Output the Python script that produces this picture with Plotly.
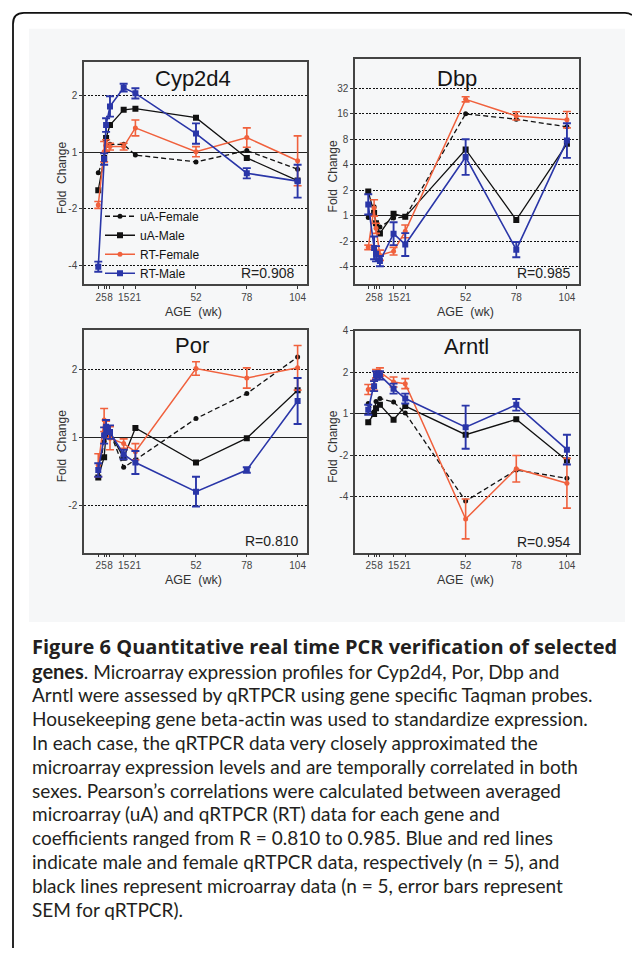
import plotly.graph_objects as go

W, H = 632, 955

# ---------------- data (log2 fold change; negative = fold decrease) ----------------
ages = [2, 5, 6, 8, 15, 21, 52, 78, 104]
age_tick_text = ['2', '5', '', '8', '15', '21', '52', '78', '104']

series_names = ['uA-Female', 'uA-Male', 'RT-Female', 'RT-Male']

cyp_uaf = [-0.36, -0.10, 0.12, 0.14, 0.14, -0.05, -0.17, 0.03, -0.30]
cyp_uam = [-0.67, -0.10, 0.25, 0.48, 0.75, 0.77, 0.61, -0.10, -0.50]
cyp_rtf = [-0.93, 0.01, 0.12, 0.10, 0.10, 0.43, 0.01, 0.26, -0.15]
cyp_rtf_err = [0.06, 0.18, 0.10, 0.06, 0.06, 0.14, 0.09, 0.17, 0.44]
cyp_rtm = [-2.02, -0.12, 0.48, 0.81, 1.14, 1.04, 0.33, -0.37, -0.51]
cyp_rtm_err = [0.09, 0.10, 0.12, 0.18, 0.07, 0.09, 0.18, 0.09, 0.29]

dbp_uaf = [-0.08, 0.35, -0.35, -0.45, -0.10, -0.05, 4.00, 3.79, 3.49]
dbp_uam = [0.95, 0.10, -0.30, -0.70, 0.07, -0.05, 2.60, -0.17, 2.82]
dbp_rtf = [-1.25, 0.30, -0.50, -1.56, -1.40, -0.62, 4.57, 3.92, 3.77]
dbp_rtf_err = [0.09, 0.32, 0.20, 0.20, 0.15, 0.25, 0.10, 0.16, 0.32]
dbp_rtm = [0.44, -1.27, -1.50, -1.79, -0.71, -1.14, 2.30, -1.34, 2.95]
dbp_rtm_err = [0.40, 0.45, 0.30, 0.20, 0.45, 0.45, 0.70, 0.30, 0.68]

por_uaf = [-0.58, -0.06, 0.13, 0.08, -0.44, -0.33, 0.28, 0.65, 1.19]
por_uam = [-0.59, -0.29, 0.05, 0.07, -0.30, 0.14, -0.37, -0.01, 0.70]
por_rtf = [-0.41, 0.26, 0.12, -0.01, -0.09, -0.21, 1.02, 0.88, 1.03]
por_rtf_err = [0.17, 0.17, 0.12, 0.17, 0.07, 0.12, 0.10, 0.15, 0.33]
por_rtm = [-0.48, 0.03, 0.16, 0.08, -0.25, -0.37, -0.80, -0.48, 0.54]
por_rtm_err = [0.10, 0.12, 0.10, 0.10, 0.07, 0.17, 0.22, 0.04, 0.34]

arn_uaf = [0.25, 0.05, 0.30, 0.37, 0.29, 0.02, -2.10, -1.35, -1.55]
arn_uam = [-0.20, 0.00, 0.14, 0.22, -0.14, 0.19, -0.50, -0.13, -1.12]
arn_rtf = [0.59, 0.69, 0.97, 1.01, 0.77, 0.73, -2.53, -1.32, -1.67]
arn_rtf_err = [0.12, 0.12, 0.10, 0.10, 0.12, 0.12, 0.48, 0.32, 0.60]
arn_rtm = [0.10, 0.67, 0.93, 0.93, 0.61, 0.37, -0.32, 0.22, -0.86]
arn_rtm_err = [0.12, 0.12, 0.10, 0.10, 0.12, 0.12, 0.52, 0.14, 0.36]

cyp_ytick_vals = [-2, -1, 0, 1]
cyp_ytick_text = ['-4', '-2', '1', '2']
dbp_ytick_vals = [-2, -1, 0, 1, 2, 3, 4, 5]
dbp_ytick_text = ['-4', '-2', '1', '2', '4', '8', '16', '32']
por_ytick_vals = [-1, 0, 1]
por_ytick_text = ['-2', '1', '2']
arn_ytick_vals = [-2, -1, 0, 1, 2]
arn_ytick_text = ['-4', '-2', '1', '2', '4']

gene_titles = ['Cyp2d4', 'Dbp', 'Por', 'Arntl']
r_texts = ['R=0.908', 'R=0.985', 'R=0.810', 'R=0.954']

caption_lines = [
    '<span style="font-family:Open Sans;font-weight:bold;font-size:20px">'
    'Figure 6 Quantitative real time PCR verification of selected</span>',
    '<span style="font-weight:bold;font-size:20px">genes</span>'
    '. Microarray expression profiles for Cyp2d4, Por, Dbp and',
    "Arntl were assessed by qRTPCR using gene specific Taqman probes.",
    "Housekeeping gene beta-actin was used to standardize expression.",
    "In each case, the qRTPCR data very closely approximated the",
    "microarray expression levels and are temporally correlated in both",
    "sexes. Pearson’s correlations were calculated between averaged",
    "microarray (uA) and qRTPCR (RT) data for each gene and",
    "coefficients ranged from R = 0.810 to 0.985. Blue and red lines",
    "indicate male and female qRTPCR data, respectively (n = 5), and",
    "black lines represent microarray data (n = 5, error bars represent",
    "SEM for qRTPCR).",
]

# ---------------- styling ----------------
RED = '#F0613D'
BLUE = '#2A36A8'
BLACK = '#111111'
AXC = '#333333'
FONT = 'Liberation Sans, Arial, sans-serif'


def px(x):
    return x / W


def py(y):
    return 1 - y / H


panels = [
    dict(uaf=cyp_uaf, uam=cyp_uam, rtf=cyp_rtf, rtfe=cyp_rtf_err, rtm=cyp_rtm, rtme=cyp_rtm_err,
         box=(84, 307, 56, 280), xr=[-5.3, 108.8], yr=[-2.33, 1.60],
         tv=cyp_ytick_vals, tt=cyp_ytick_text, title_xy=(193, 73), r_xy=(297, 269)),
    dict(uaf=dbp_uaf, uam=dbp_uam, rtf=dbp_rtf, rtfe=dbp_rtf_err, rtm=dbp_rtm, rtme=dbp_rtm_err,
         box=(355, 579, 53, 280), xr=[-4.8, 110.2], yr=[-2.70, 6.17],
         tv=dbp_ytick_vals, tt=dbp_ytick_text, title_xy=(457, 73), r_xy=(573, 269)),
    dict(uaf=por_uaf, uam=por_uam, rtf=por_rtf, rtfe=por_rtf_err, rtm=por_rtm, rtme=por_rtm_err,
         box=(84, 307, 326, 550), xr=[-5.3, 108.8], yr=[-1.70, 1.59],
         tv=por_ytick_vals, tt=por_ytick_text, title_xy=(192, 342), r_xy=(301, 538)),
    dict(uaf=arn_uaf, uam=arn_uam, rtf=arn_rtf, rtfe=arn_rtf_err, rtm=arn_rtm, rtme=arn_rtm_err,
         box=(355, 579, 327, 550), xr=[-4.8, 110.2], yr=[-3.34, 2.00],
         tv=arn_ytick_vals, tt=arn_ytick_text, title_xy=(466, 343), r_xy=(573, 539)),
]

fig = go.Figure()
layout = dict(width=W, height=H, margin=dict(l=0, r=0, t=0, b=0),
              paper_bgcolor='white', plot_bgcolor='rgba(0,0,0,0)',
              font=dict(family=FONT, color=AXC), showlegend=True)
annotations = []

for i, p in enumerate(panels):
    n = '' if i == 0 else str(i + 1)
    xa, ya = 'x' + n, 'y' + n
    show = (i == 0)
    fig.add_trace(go.Scatter(x=ages, y=p['uaf'], name=series_names[0], xaxis=xa, yaxis=ya,
                             mode='lines+markers', showlegend=show, legendrank=1,
                             line=dict(color=BLACK, width=1.3, dash='5px,3px'),
                             marker=dict(symbol='circle', size=5, color=BLACK)))
    fig.add_trace(go.Scatter(x=ages, y=p['uam'], name=series_names[1], xaxis=xa, yaxis=ya,
                             mode='lines+markers', showlegend=show, legendrank=2,
                             line=dict(color=BLACK, width=1.3),
                             marker=dict(symbol='square', size=6, color=BLACK)))
    fig.add_trace(go.Scatter(x=ages, y=p['rtf'], name=series_names[2], xaxis=xa, yaxis=ya,
                             mode='lines+markers', showlegend=show, legendrank=3,
                             line=dict(color=RED, width=1.5),
                             marker=dict(symbol='circle', size=5, color=RED),
                             error_y=dict(type='data', array=p['rtfe'], color=RED,
                                          thickness=1.6, width=4)))
    fig.add_trace(go.Scatter(x=ages, y=p['rtm'], name=series_names[3], xaxis=xa, yaxis=ya,
                             mode='lines+markers', showlegend=show, legendrank=4,
                             line=dict(color=BLUE, width=1.6),
                             marker=dict(symbol='square', size=6, color=BLUE),
                             error_y=dict(type='data', array=p['rtme'], color=BLUE,
                                          thickness=1.9, width=4)))

    x0, x1, y0, y1 = p['box']
    layout['xaxis' + n] = dict(domain=[px(x0), px(x1)], range=p['xr'], anchor=ya,
                               showline=True, mirror=True, linecolor='#444444', linewidth=1.5,
                               showgrid=False, zeroline=False,
                               tickmode='array', tickvals=ages, ticktext=age_tick_text,
                               ticks='outside', ticklen=3, tickwidth=1, tickcolor=AXC,
                               tickangle=0, tickfont=dict(size=10, color='#444444', family=FONT))
    layout['yaxis' + n] = dict(domain=[py(y1), py(y0)], range=p['yr'], anchor=xa,
                               showline=True, mirror=True, linecolor='#444444', linewidth=1.5,
                               showgrid=True, gridcolor='#111111', gridwidth=1, griddash='2px,1.5px',
                               zeroline=True, zerolinecolor='#222222', zerolinewidth=1.4,
                               tickmode='array', tickvals=p['tv'], ticktext=p['tt'],
                               ticks='outside', ticklen=3, tickwidth=1, tickcolor=AXC,
                               tickfont=dict(size=10, color='#444444', family=FONT))
    # panel title
    annotations.append(dict(x=px(p['title_xy'][0]), y=py(p['title_xy'][1]), xref='paper', yref='paper',
                            text=gene_titles[i], showarrow=False, xanchor='center', yanchor='middle',
                            font=dict(size=22, color='#151515', family=FONT)))
    # R value
    annotations.append(dict(x=px(p['r_xy'][0]), y=py(p['r_xy'][1]), xref='paper', yref='paper',
                            text=r_texts[i], showarrow=False, xanchor='right', yanchor='middle',
                            font=dict(size=14, color='#222222', family=FONT)))
    # axis titles
    annotations.append(dict(x=px((x0 + x1) / 2 - 2), y=py(y1 + 28), xref='paper', yref='paper',
                            text='AGE  (wk)', showarrow=False, xanchor='center', yanchor='middle',
                            font=dict(size=12.5, color='#333333', family=FONT)))
    annotations.append(dict(x=px(x0 - 22), y=py((y0 + y1) / 2 + 5), xref='paper', yref='paper',
                            text='Fold  Change', showarrow=False, textangle=-90,
                            xanchor='center', yanchor='middle',
                            font=dict(size=12, color='#333333', family=FONT)))

# caption
for k, line in enumerate(caption_lines):
    annotations.append(dict(x=px(30), y=py(645 + 24 * k), xref='paper', yref='paper',
                            text=line, showarrow=False, xanchor='left', yanchor='middle',
                            font=dict(size=19, color='#231f20', family='Lato, Open Sans, sans-serif')))

layout['annotations'] = annotations
layout['legend'] = dict(x=px(100), y=py(197), xanchor='left', yanchor='top',
                        bgcolor='rgba(0,0,0,0)', borderwidth=0, tracegroupgap=0,
                        font=dict(size=12, color='#111111', family=FONT), itemwidth=30)

frame_path = ('M {a},{b} L {a},{c} Q {a},{d} {e},{d} L {f},{d} Q {g},{d} {h},{i}'
              .format(a=px(13), b=py(948), c=py(18), d=py(7), e=px(24),
                      f=px(625), g=px(629), h=px(632), i=py(9)))
layout['shapes'] = [
    dict(type='rect', xref='paper', yref='paper', x0=px(29), x1=px(625), y0=py(620), y1=py(23),
         fillcolor='#f6f7f8', line=dict(width=0), layer='below'),
    dict(type='path', xref='paper', yref='paper', path=frame_path,
         line=dict(color='#111111', width=1.8), layer='above'),
]

fig.update_layout(**layout)
fig.write_html('out.html')
